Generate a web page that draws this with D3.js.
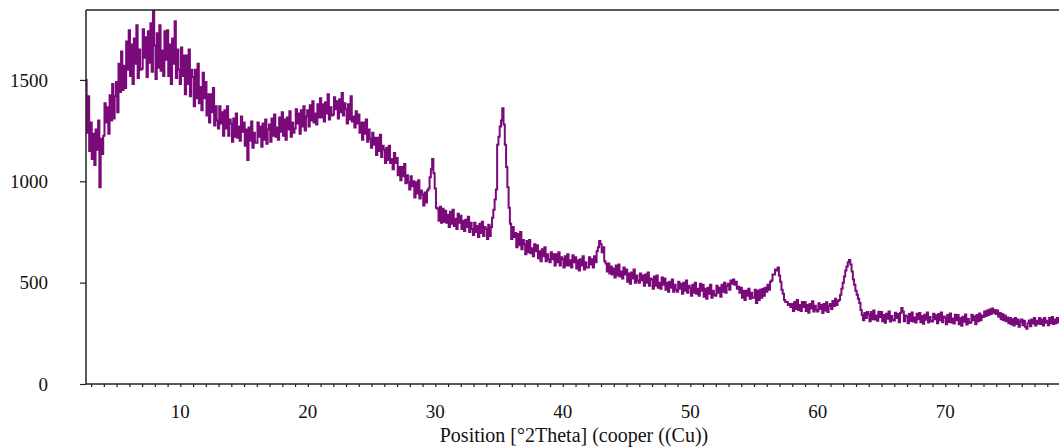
<!DOCTYPE html>
<html>
<head>
<meta charset="utf-8">
<script src="https://cdn.jsdelivr.net/npm/d3@7"></script>
<style>
  body { margin: 0; background: #fff; }
  svg { display: block; font-family: "Liberation Serif", "Times New Roman", serif; }
</style>
</head>
<body>
<script>
// XRD scan, counts, one value per 0.1 deg
const scanStart = 2.6;
const scanStep = 0.1;
const counts = [
  1500, 1240, 1420, 1150,                                     // 2.6
  1290, 1110, 1235, 1080, 1255, 1155, 1300, 970, 1210, 1135,  // 3
  1225, 1385, 1290, 1365, 1235, 1425, 1300, 1480, 1310, 1420, // 4
  1490, 1340, 1580, 1440, 1640, 1450, 1570, 1460, 1690, 1550, // 5
  1745, 1520, 1675, 1480, 1705, 1580, 1770, 1510, 1650, 1550, // 6
  1555, 1750, 1610, 1710, 1515, 1740, 1585, 1780, 1540, 1860, // 7
  1670, 1505, 1730, 1560, 1770, 1545, 1645, 1520, 1740, 1600, // 8
  1745, 1520, 1675, 1480, 1705, 1580, 1790, 1510, 1650, 1550, // 9
  1480, 1660, 1520, 1620, 1430, 1620, 1480, 1650, 1420, 1550, // 10
  1515, 1370, 1550, 1410, 1580, 1385, 1465, 1350, 1535, 1410, // 11
  1490, 1325, 1430, 1290, 1430, 1340, 1460, 1275, 1370, 1300, // 12
  1260, 1370, 1285, 1340, 1225, 1350, 1260, 1370, 1225, 1305, // 13
  1285, 1195, 1310, 1220, 1335, 1215, 1270, 1200, 1320, 1245, // 14
  1290, 1175, 1255, 1105, 1265, 1200, 1295, 1165, 1240, 1190, // 15
  1190, 1290, 1220, 1270, 1170, 1285, 1205, 1305, 1185, 1255, // 16
  1280, 1195, 1310, 1225, 1330, 1220, 1265, 1205, 1315, 1245, // 17
  1340, 1225, 1305, 1205, 1315, 1255, 1345, 1220, 1290, 1240, // 18
  1260, 1355, 1285, 1335, 1235, 1350, 1270, 1370, 1250, 1320, // 19
  1350, 1270, 1375, 1300, 1395, 1290, 1335, 1280, 1380, 1315, // 20
  1410, 1315, 1380, 1295, 1390, 1335, 1430, 1305, 1365, 1325, // 21
  1330, 1415, 1355, 1395, 1310, 1405, 1340, 1435, 1325, 1385, // 22
  1355, 1285, 1380, 1305, 1420, 1295, 1320, 1265, 1345, 1285, // 23
  1330, 1240, 1290, 1205, 1290, 1235, 1305, 1195, 1255, 1210, // 24
  1165, 1240, 1180, 1215, 1130, 1215, 1150, 1230, 1120, 1175, // 25
  1155, 1090, 1165, 1105, 1175, 1090, 1110, 1060, 1140, 1090, // 26
  1115, 1030, 1070, 1005, 1070, 1025, 1085, 990, 1030, 995,   // 27
  960, 1025, 975, 1000, 920, 995, 940, 1005, 915, 955,         // 28
  935, 880, 945, 895, 955, 965, 1020, 1060, 1110, 1040,        // 29
  965, 870, 865, 805, 875, 795, 865, 800, 855, 795,            // 30
  835, 775, 850, 790, 860, 780, 815, 765, 840, 795,            // 31
  830, 765, 805, 755, 810, 775, 825, 750, 795, 765,            // 32
  735, 795, 750, 780, 725, 790, 745, 800, 730, 775,            // 33
  765, 715, 785, 730, 775, 820, 860, 910, 960, 1180,           // 34
  1220, 1270, 1300, 1360, 1280, 1180, 1070, 970, 870, 790,     // 35
  715, 775, 725, 745, 675, 740, 685, 750, 665, 710,            // 36
  690, 640, 705, 650, 710, 645, 670, 630, 690, 655,            // 37
  685, 620, 655, 605, 665, 630, 675, 605, 640, 615,            // 38
  600, 650, 615, 640, 585, 640, 600, 650, 585, 625,            // 39
  615, 575, 630, 585, 640, 585, 610, 575, 635, 600,            // 40
  625, 570, 610, 560, 615, 585, 630, 565, 600, 575,            // 41
  575, 625, 590, 615, 575, 630, 600, 655, 675, 705,            // 42
  690, 650, 675, 605, 595, 555, 595, 545, 580, 540,            // 43
  570, 525, 585, 535, 590, 530, 555, 520, 575, 540,            // 44
  565, 505, 545, 495, 550, 520, 565, 500, 535, 510,            // 45
  500, 545, 510, 535, 485, 540, 500, 550, 485, 520,            // 46
  515, 470, 530, 485, 535, 475, 500, 470, 525, 490,            // 47
  520, 465, 500, 455, 505, 475, 515, 455, 490, 465,            // 48
  455, 505, 470, 495, 445, 500, 460, 510, 450, 485,            // 49
  475, 435, 490, 450, 500, 445, 470, 435, 495, 460,            // 50
  490, 430, 470, 420, 475, 445, 490, 425, 460, 440,            // 51
  435, 485, 450, 475, 430, 490, 455, 500, 450, 485,            // 52
  495, 465, 510, 495, 515, 490, 505, 470, 480, 450,            // 53
  475, 425, 460, 415, 460, 435, 470, 420, 450, 425,            // 54
  425, 465, 400, 460, 415, 465, 425, 470, 435, 475,            // 55
  455, 490, 465, 505, 510, 540, 540, 565, 560, 575,            // 56
  535, 505, 465, 445, 415, 405, 405, 390, 395, 380,            // 57
  395, 360, 405, 370, 415, 365, 390, 360, 405, 380,            // 58
  405, 360, 390, 352, 395, 372, 408, 358, 386, 366,            // 59
  358, 398, 370, 390, 350, 395, 362, 403, 355, 385,            // 60
  395, 370, 410, 385, 420, 390, 410, 415, 440, 470,            // 61
  500, 530, 560, 580, 600, 612, 590, 555, 515, 490,            // 62
  460, 440, 420, 400, 365, 340, 315, 350, 325, 355,            // 63
  343, 310, 355, 320, 363, 318, 338, 312, 357, 330,            // 64
  355, 310, 341, 302, 347, 322, 358, 308, 336, 316,            // 65
  313, 352, 325, 345, 305, 350, 375, 358, 310, 338,            // 66
  333, 300, 345, 311, 353, 308, 328, 303, 347, 320,            // 67
  350, 305, 336, 297, 342, 317, 353, 303, 331, 311,            // 68
  308, 347, 319, 339, 300, 345, 314, 353, 305, 333,            // 69
  328, 295, 340, 306, 348, 303, 323, 298, 342, 315,            // 70
  340, 295, 326, 287, 332, 307, 343, 293, 321, 301,            // 71
  303, 342, 314, 334, 295, 340, 309, 348, 315, 338,            // 72
  330, 358, 335, 362, 340, 368, 345, 372, 352, 365,            // 73
  345, 362, 332, 350, 320, 345, 315, 338, 310, 328,            // 74
  300, 325, 295, 320, 288, 325, 296, 318, 283, 308,            // 75
  318, 290, 312, 282, 272, 300, 313, 285, 318, 298,            // 76
  325, 288, 312, 297, 325, 296, 318, 288, 325, 302,            // 77
  312, 290, 325, 300, 330, 296, 318, 300, 325, 305, 318        // 78 .. 79.0
];
const xTicks = [10, 20, 30, 40, 50, 60, 70];
const yTicks = [0, 500, 1000, 1500];
const xTitle = 'Position [°2Theta] (cooper ((Cu))';

const width = 1059;
const height = 448;
const margin = {top: 10, right: 0, bottom: 64, left: 86};

const data = counts.map((c, i) => ({t: scanStart + i * scanStep, c}));

const x = d3.scaleLinear().domain([2.6, 79]).range([margin.left, 1060]);
const y = d3.scaleLinear().domain([0, 1845]).range([height - margin.bottom, margin.top]);

const svg = d3.select('body').append('svg')
    .attr('width', width)
    .attr('height', height);

svg.append('defs').append('clipPath').attr('id', 'plot')
  .append('rect')
    .attr('x', margin.left)
    .attr('y', margin.top)
    .attr('width', width - margin.left)
    .attr('height', y(0) - margin.top);

const line = d3.line()
    .x(d => x(d.t))
    .y(d => y(d.c))
    .curve(d3.curveStep);

svg.append('path')
    .datum(data)
    .attr('clip-path', 'url(#plot)')
    .attr('fill', 'none')
    .attr('stroke', '#7a0a7a')
    .attr('stroke-width', 2)
    .attr('d', line);

// frame: top line, then the two axes
const axisColor = '#222';
svg.append('line')
    .attr('x1', margin.left).attr('x2', width)
    .attr('y1', margin.top).attr('y2', margin.top)
    .attr('stroke', axisColor).attr('stroke-width', 1.5);

// y axis
const yAxis = svg.append('g')
    .attr('transform', `translate(${margin.left},0)`)
    .call(d3.axisLeft(y).tickValues(yTicks).tickSize(6).tickPadding(32).tickFormat(d3.format('d')));
yAxis.select('.domain').attr('stroke', axisColor).attr('stroke-width', 1.5)
    .attr('d', `M0,${y(0)}V${margin.top}`);
yAxis.selectAll('.tick line').attr('stroke', axisColor).attr('stroke-width', 1.2);
yAxis.selectAll('.tick text')
    .attr('fill', '#111')
    .style('font-size', '19px')
    .style('font-family', '"Liberation Serif", serif');

// x axis: minor ticks every degree
const xAxis = svg.append('g')
    .attr('transform', `translate(0,${y(0)})`)
    .call(d3.axisBottom(x).tickValues(d3.range(3, 80, 1)).tickSize(3).tickFormat(''));
xAxis.select('.domain').attr('stroke', axisColor).attr('stroke-width', 1.5)
    .attr('d', `M${margin.left},0H${width}`);
xAxis.selectAll('.tick line').attr('stroke', axisColor).attr('stroke-width', 1.2);

svg.append('g').selectAll('text')
    .data(xTicks)
    .join('text')
    .attr('x', d => x(d))
    .attr('y', 418)
    .attr('text-anchor', 'middle')
    .attr('fill', '#111')
    .style('font-size', '19px')
    .text(d => d);

svg.append('text')
    .attr('x', 574)
    .attr('y', 442)
    .attr('text-anchor', 'middle')
    .attr('fill', '#111')
    .style('font-size', '20px')
    .text(xTitle);
</script>
</body>
</html>
